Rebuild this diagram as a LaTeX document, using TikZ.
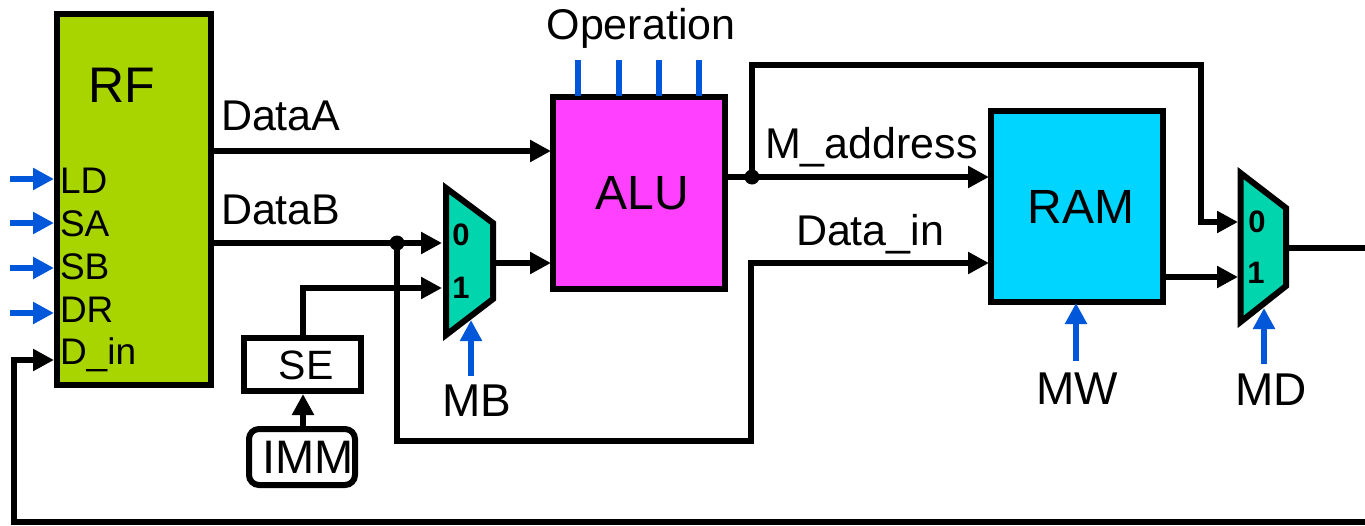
\documentclass[tikz,border=0pt]{standalone}
\usepackage{fontspec}
\setmainfont{Liberation Sans}
\usetikzlibrary{arrows.meta}
\definecolor{rfgreen}{HTML}{A8D500}
\definecolor{alupink}{HTML}{FF40FF}
\definecolor{ramcyan}{HTML}{00D5FF}
\definecolor{muxteal}{HTML}{00D5AE}
\definecolor{ctlblue}{HTML}{0057D9}
\newcommand{\fs}[1]{\fontsize{#1}{#1}\selectfont}
\tikzset{
  x=1pt,y=-1pt,
  blockbox/.style={draw=black,line width=6pt,outer sep=0pt,inner sep=0pt,anchor=north west},
  wire/.style={draw=black,line width=6pt},
  wirearrow/.style={wire,-{Triangle[length=21pt,width=21pt]}},
  ctl/.style={draw=ctlblue,line width=6pt,-{Triangle[length=21pt,width=21pt]}},
  ticklabel/.style={draw=ctlblue,line width=6pt},
  lab/.style={inner sep=0pt,outer sep=0pt,anchor=base west,font=\fs{43}},
  portlab/.style={inner sep=0pt,outer sep=0pt,anchor=base west,font=\fs{37}},
  ctrlname/.style={inner sep=0pt,outer sep=0pt,anchor=base,font=\fs{46}},
  blockname/.style={inner sep=0pt,outer sep=0pt,anchor=center,font=\fs{48}},
  muxlab/.style={inner sep=0pt,outer sep=0pt,anchor=center,font=\fs{31}\bfseries},
  muxbody/.style={draw=black,fill=muxteal,line width=6pt,miter limit=10},
  dot/.style={circle,fill=black,inner sep=0pt,outer sep=0pt,minimum size=15pt},
}
\begin{document}
\begin{tikzpicture}
\useasboundingbox (0,0) rectangle (1365,525);
% blocks
\node[blockbox,fill=rfgreen,minimum width=154pt,minimum height=371pt] (rf) at (57,14) {};
\node[blockbox,fill=alupink,minimum width=172pt,minimum height=192pt] (alu) at (552.5,97) {};
\node[blockbox,fill=ramcyan,minimum width=172pt,minimum height=191pt] (ram) at (991,111) {};
\node[draw=black,line width=6pt,outer sep=0pt,inner sep=0pt,anchor=north west,fill=white,minimum width=117pt,minimum height=53pt] (se) at (244,338) {};
\node[draw=black,line width=6pt,outer sep=0pt,inner sep=0pt,anchor=north west,fill=white,rounded corners=10pt,minimum width=106pt,minimum height=56pt] (imm) at (249,429) {};
% muxes
\draw[muxbody] (446,188) -- (493,223) -- (493,299) -- (446,335) -- cycle;
\draw[muxbody] (1240.5,173) -- (1286,208) -- (1286,286) -- (1240.5,322) -- cycle;
% free coordinates
\coordinate (rfA) at (213,151);
\coordinate (rfB) at (213,243);
\coordinate (aluA) at (551,151);
\coordinate (aluB) at (551,263);
\coordinate (aluO) at (727,177);
\coordinate (ramA) at (989,177);
\coordinate (ramD) at (989,263);
\coordinate (ramO) at (1166,277);
\coordinate (mb0) at (442,243);
\coordinate (mb1) at (442,288);
\coordinate (mbO) at (495,263);
\coordinate (md0) at (1238,222);
\coordinate (md1) at (1238,277);
\coordinate (mdO) at (1288,248);
\coordinate (mdEnd) at (1365,248);
\coordinate (dtap) at (397,243);
\coordinate (atap) at (752,177);
% wires
\draw[wirearrow] (rfA) -- (aluA);
\draw[wirearrow] (rfB) -- (mb0);
\draw[wirearrow] (mbO) -- (aluB);
\draw[wirearrow] (aluO) -- (ramA);
\draw[wirearrow] (dtap) -- (397,441) -- (751,441) -- (751,263) -- (ramD);
\draw[wirearrow] (atap) -- (752,65) -- (1201,65) -- (1201,222) -- (md0);
\draw[wirearrow] (ramO) -- (md1);
\draw[wire] (mdO) -- (mdEnd);
\draw[wirearrow] (se.north -| 303,0) ++(0,-1) -- (303,288) -- (mb1);
\draw[wirearrow] (imm.north -| 303,0) -- (303,394);
\draw[wirearrow] (1365,522) -- (14,522) -- (14,360) -- (54,360);
\node[dot] (d1) at (dtap) {};
\node[dot] (d2) at (atap) {};
% control arrows
\draw[ctl] (10,179) -- (54,179);
\draw[ctl] (10,223) -- (54,223);
\draw[ctl] (10,268) -- (54,268);
\draw[ctl] (10,313) -- (54,313);
\draw[ctl] (471,376) -- (471,320);
\draw[ctl] (1076,361) -- (1076,303);
\draw[ctl] (1264,364) -- (1264,308);
\draw[ticklabel] (578,60) -- (578,96);
\draw[ticklabel] (619,60) -- (619,96);
\draw[ticklabel] (659,60) -- (659,96);
\draw[ticklabel] (699,60) -- (699,96);
% texts
\node[blockname,font=\fs{50}] (trf) at (122,85) {RF};
\node[blockname] (talu) at (642,193) {ALU};
\node[blockname] (tram) at (1081,207) {RAM};
\node[portlab] (tld) at (60,193) {LD};
\node[portlab] (tsa) at (60,236) {SA};
\node[portlab] (tsb) at (60,279) {SB};
\node[portlab] (tdr) at (60,322) {DR};
\node[portlab] (tdin) at (60,364) {D\_in};
\node[lab] (tda) at (221,130) {DataA};
\node[lab] (tdb) at (221,224) {DataB};
\node[lab] (tma) at (765,158) {M\_address};
\node[lab] (tdi) at (796,245) {Data\_in};
\node[lab,anchor=base] (top) at (641,39) {Operation};
\node[ctrlname] (tmb) at (477,416) {MB};
\node[ctrlname] (tmw) at (1077,404) {MW};
\node[ctrlname] (tmd) at (1271,405) {MD};
\node[inner sep=0pt,anchor=base,font=\fs{41}] (tse) at (306,379) {SE};
\node[inner sep=0pt,anchor=base,font=\fs{47}] (timm) at (308,473) {IMM};
\node[muxlab] (m0) at (461,235) {0};
\node[muxlab] (m1) at (461,288) {1};
\node[muxlab] (m2) at (1257,222) {0};
\node[muxlab] (m3) at (1256,273) {1};
\end{tikzpicture}
\end{document}
